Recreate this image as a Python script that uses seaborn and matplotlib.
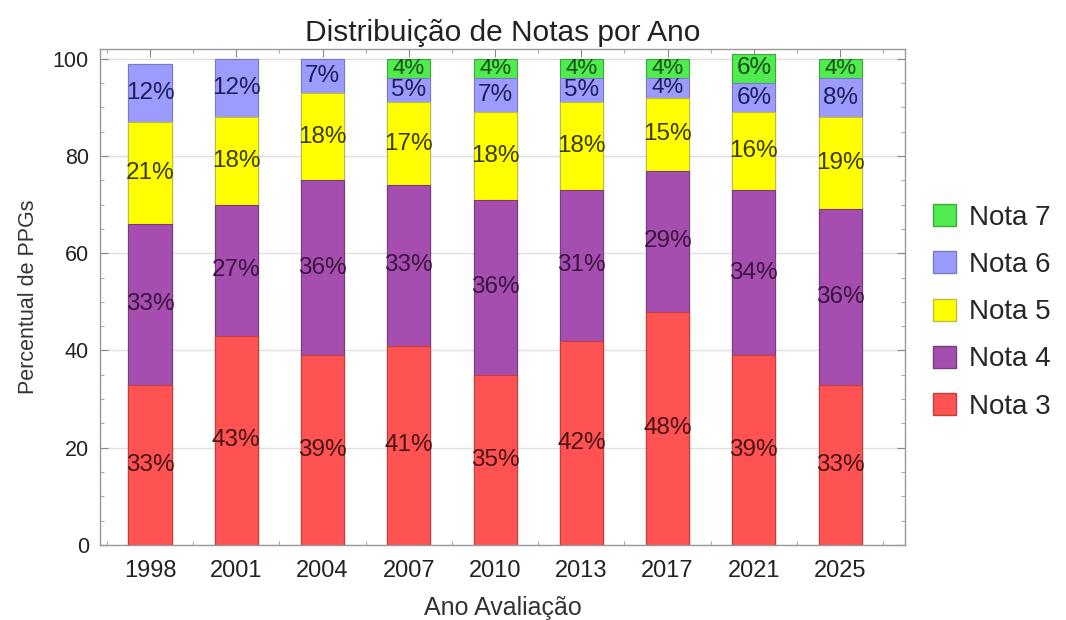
import numpy as np
import pandas as pd
import matplotlib
matplotlib.use("Agg")
import matplotlib.pyplot as plt
import seaborn as sns
from matplotlib.patches import Patch
from matplotlib.ticker import MultipleLocator

anos = ["1998", "2001", "2004", "2007", "2010", "2013", "2017", "2021", "2025"]
nota3 = [33, 43, 39, 41, 35, 42, 48, 39, 33]
nota4 = [33, 27, 36, 33, 36, 31, 29, 34, 36]
nota5 = [21, 18, 18, 17, 18, 18, 15, 16, 19]
nota6 = [12, 12, 7, 5, 7, 5, 4, 6, 8]
nota7 = [0, 0, 0, 4, 4, 4, 4, 6, 4]
series_names = ["Nota 3", "Nota 4", "Nota 5", "Nota 6", "Nota 7"]
series_vals = [nota3, nota4, nota5, nota6, nota7]
colors = ["#FF5252", "#A64EB0", "#FFFF00", "#9C9CFF", "#4FEB4F"]
text_colors = ["#4A1414", "#3A1440", "#3A3A00", "#1E1E5A", "#145014"]
edge_colors = ["#C04040", "#7A3A82", "#BDBD40", "#7A7AC0", "#3AAA3A"]

sns.set_style("white")
plt.rcParams['font.family'] = ['Liberation Sans', 'DejaVu Sans']

fig = plt.figure(figsize=(10.66, 6.2), dpi=100)
ax = fig.add_axes([0.0938, 0.121, 0.755, 0.800])

df = pd.DataFrame({"Ano": anos})
vals = np.array(series_vals, dtype=float)
cum = np.cumsum(vals, axis=0)

# draw from top cumulative to bottom so lower layers overlay
for i in range(len(series_names) - 1, -1, -1):
    df["cum"] = cum[i]
    sns.barplot(data=df, x="Ano", y="cum", color=colors[i], width=0.5,
                saturation=1, edgecolor=edge_colors[i], linewidth=0.8,
                ax=ax, zorder=2)

# labels
for i in range(len(series_names)):
    for j in range(len(anos)):
        v = vals[i, j]
        if v <= 0:
            continue
        mid = cum[i, j] - v / 2
        fs = 17.5 if v >= 5 else 16
        ax.text(j, mid, f"{int(v)}%", ha="center", va="center",
                fontsize=fs, color=text_colors[i], zorder=5)

ax.set_xlim(-0.58, 8.75)
ax.set_ylim(0, 102)
ax.yaxis.set_major_locator(MultipleLocator(20))
ax.yaxis.set_minor_locator(MultipleLocator(5))
ax.set_xticks(range(len(anos)))
ax.set_xticks(np.arange(-0.5, 9, 1.0), minor=True)
ax.set_xticklabels(anos)

ax.grid(axis="y", which="major", color="#E0E0E0", linewidth=1, zorder=0)
ax.set_axisbelow(True)

for s in ax.spines.values():
    s.set_color("#999999")
    s.set_linewidth(1)
    s.set_visible(True)

ax.tick_params(axis="both", which="major", direction="in", length=6, width=0.8,
               color="#888888", labelcolor="#222222",
               top=True, right=True, bottom=True, left=True)
ax.tick_params(axis="y", labelsize=15.5, pad=8)
ax.tick_params(axis="x", labelsize=17, pad=11)
ax.tick_params(axis="both", which="minor", direction="in", length=3, width=0.8,
               color="#AAAAAA", top=True, right=True, bottom=True, left=True)
ax.tick_params(axis="y", labelright=False)
ax.tick_params(axis="x", labeltop=False)

ax.set_xlabel("Ano Avaliação", fontsize=18, color="#333333", labelpad=10)
ax.set_ylabel("Percentual de PPGs", fontsize=15.5, color="#333333", labelpad=10)
ax.set_title("Distribuição de Notas por Ano", fontsize=21.5, color="#222222", pad=6)

handles = [Patch(facecolor=colors[i], edgecolor=edge_colors[i], label=series_names[i])
           for i in range(len(series_names) - 1, -1, -1)]
fig.legend(handles=handles, loc="center left", bbox_to_anchor=(0.875, 0.497),
           frameon=False, fontsize=20, handlelength=0.85, handleheight=0.85,
           labelspacing=0.74, handletextpad=0.45, borderaxespad=0.0,
           borderpad=0.0)

fig.savefig("out.png", dpi=100)
